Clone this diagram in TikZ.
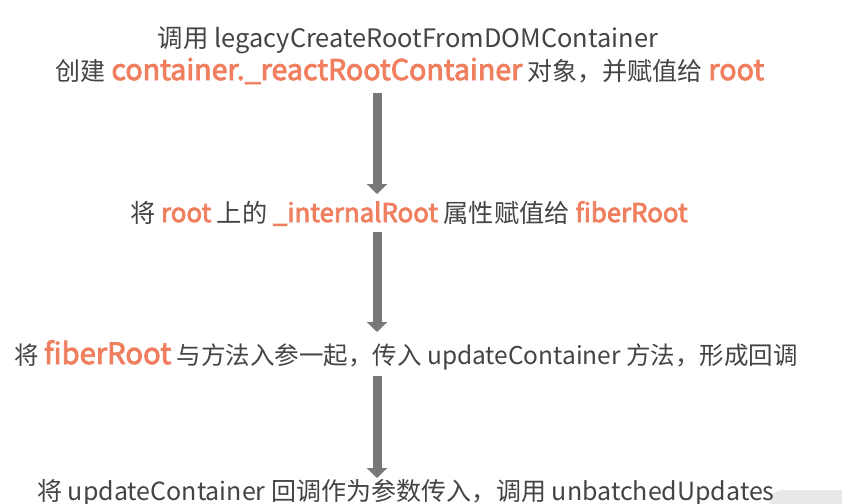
\documentclass[tikz,border=0pt]{standalone}
\usepackage{fontspec}
\setmainfont{Noto Sans CJK SC}
\newfontfamily\hlfont{Noto Sans CJK SC}[FakeBold=3]
\usetikzlibrary{arrows.meta}
\definecolor{txtgray}{RGB}{68,68,68}
\definecolor{hl}{RGB}{239,127,95}
\definecolor{arrowgray}{RGB}{120,120,120}
\definecolor{wm}{RGB}{232,232,232}
\newcommand{\hlt}[2]{{\fontsize{#1}{#1}\selectfont\hlfont\color{hl}#2}}
\tikzset{
  line/.style={inner sep=0pt, text=txtgray, anchor=base},
  flow/.style={draw=arrowgray, line width=9pt, -{Triangle[width=20pt,length=10pt]}}
}
\begin{document}
\begin{tikzpicture}[x=1pt,y=-1pt]
\useasboundingbox (0,0) rectangle (842,503);
\fill[white] (0,0) rectangle (842,503);
\fill[wm, rounded corners=12pt] (770,490) rectangle (860,520);
\node[line, font=\fontsize{25.4}{28}\selectfont] (t1a) at (408,48) {调用 legacyCreateRootFromDOMContainer};
\node[line, font=\fontsize{25}{28}\selectfont] (t1b) at (410,80) {创建 \hlt{28.6}{container.\_reactRootContainer} 对象，并赋值给 \hlt{28.6}{root}};
\node[line, font=\fontsize{25.2}{28}\selectfont] (t2) at (409,222) {将 \hlt{25.8}{root} 上的 \hlt{25.8}{\_internalRoot} 属性赋值给 \hlt{25.8}{fiberRoot}};
\node[line, font=\fontsize{24.5}{28}\selectfont] (t3) at (406,364) {将 \hlt{29.2}{fiberRoot} 与方法入参一起，传入 updateContainer 方法，形成回调};
\node[line, font=\fontsize{25}{28}\selectfont] (t4) at (406,500) {将 updateContainer 回调作为参数传入，调用 unbatchedUpdates};
\coordinate (ax) at (377,0);
\draw[flow] (ax |- 0,93) -- (ax |- 0,194);
\draw[flow] (ax |- 0,232) -- (ax |- 0,332);
\draw[flow] (ax |- 0,376) -- (ax |- 0,478);
\end{tikzpicture}
\end{document}
